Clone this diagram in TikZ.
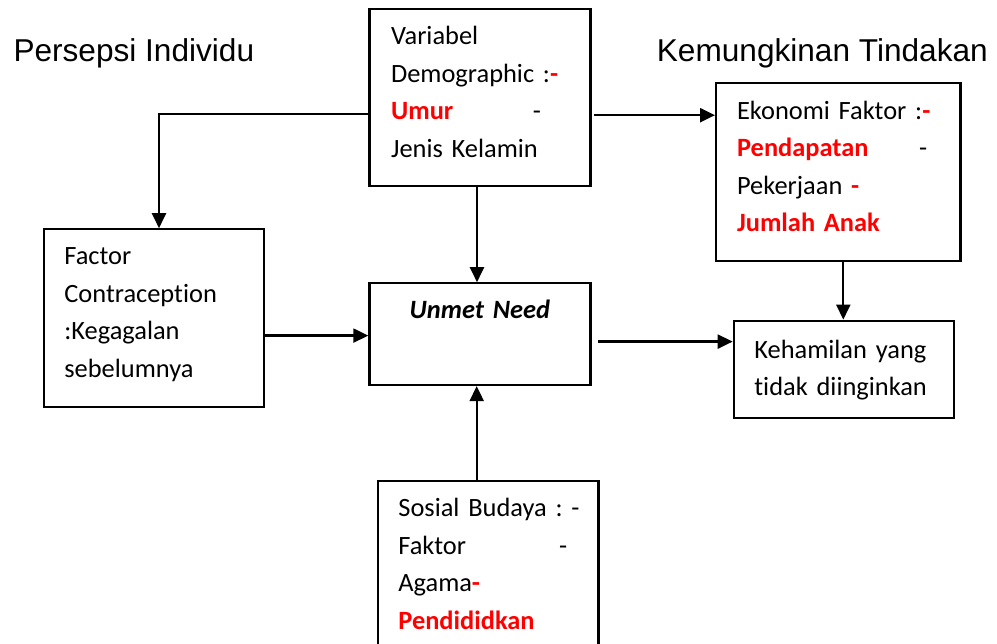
\documentclass[tikz,border=0pt]{standalone}
\usepackage{fontspec}
\setmainfont[Ligatures=NoCommon]{Carlito}
\newfontfamily\headfont{Liberation Sans}
\usetikzlibrary{calc,arrows.meta}
\frenchspacing
\DeclareRobustCommand\tsp{\fontdimen2\font 4.3pt\relax}
\newcommand{\hl}[1]{{\color{red}\bfseries\tsp #1}}
\tikzset{
  box/.style={draw, line width=2.2pt, rectangle, anchor=base west, align=left,
    inner ysep=0pt, font=\fontsize{26.4}{37.5}\selectfont\frenchspacing\tsp},
  arr/.style={line width=2.2pt, -{Triangle[length=15pt,width=14pt]}},
  head/.style={anchor=base west, inner sep=0pt, font=\headfont\fontsize{31.6}{36}\selectfont}
}
\begin{document}
\begin{tikzpicture}[x=1pt,y=-1pt]
\useasboundingbox (0,0) rectangle (997,644);

\node[head] (h1) at (13.3,61.7) {Persepsi Individu};
\node[head] (h2) at (656.7,61.7) {Kemungkinan Tindakan};

\node[box, inner xsep=21.7pt, text width=177.6pt, text height=35.7pt, text depth=140.7pt] (var) at (368.3,45)
 {\mbox{Variabel}\\ \mbox{Demographic :\hl{-}}\\ \mbox{\makebox[141.7pt][l]{\hl{Umur}}-}\\ \mbox{Jenis Kelamin}};

\node[box, inner xsep=21pt, text width=202.3pt, text height=36pt, text depth=141.4pt] (eko) at (715,119.3)
 {\mbox{Ekonomi Faktor :\hl{-}}\\ \mbox{\makebox[182pt][l]{\hl{Pendapatan}}-}\\ \mbox{Pekerjaan \hl{-}}\\ \mbox{\hl{Jumlah Anak}}};

\node[box, inner xsep=20.6pt, text width=178.8pt, text height=35.7pt, text depth=141.7pt] (fac) at (42.7,265)
 {\mbox{Factor}\\ \mbox{Contraception}\\ \mbox{:Kegagalan}\\ \mbox{sebelumnya}};

\node[box, align=center, inner xsep=0pt, text width=221pt, text height=35pt, text depth=66.7pt] (unm) at (368.3,318.3)
 {\textbf{\textit{Unmet Need}}};

\node[box, inner xsep=20.6pt, text width=178.8pt, text height=37.6pt, text depth=60pt] (keh) at (732.7,358.3)
 {\mbox{Kehamilan yang}\\ \mbox{tidak diinginkan}};

\node[box, inner xsep=20.6pt, text width=179.4pt, text height=35.7pt, text depth=150pt] (sos) at (376.7,516.7)
 {\mbox{Sosial Budaya : -}\\ \mbox{\makebox[160.7pt][l]{Faktor}-}\\ \mbox{Agama\hl{-}}\\ \mbox{\hl{Pendididkan}}};

\draw[arr] ($(var.north west)+(0,105.7)$) -| ($(fac.north west)+(116.3,0)$);
\coordinate (c2) at ($(var.north east)+(2,107)$);
\draw[arr] (c2) -- (c2 -| eko.west);
\coordinate (c3) at ($(var.south west)+(108.7,0)$);
\draw[arr] (c3) -- (c3 |- unm.north);
\coordinate (c4) at ($(fac.north east)+(0,107.4)$);
\draw[arr] (c4) -- (c4 -| unm.west);
\coordinate (c5) at ($(unm.north east)+(6.7,59.4)$);
\draw[arr] (c5) -- (c5 -| keh.west);
\coordinate (c6) at ($(eko.south west)+(128.3,0)$);
\draw[arr] (c6) -- (c6 |- keh.north);
\coordinate (c7) at ($(sos.north west)+(100,0)$);
\draw[arr] (c7) -- (c7 |- unm.south);
\end{tikzpicture}
\end{document}
